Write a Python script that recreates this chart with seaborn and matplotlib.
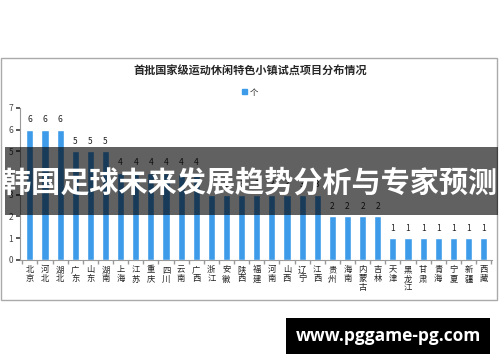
import matplotlib
matplotlib.use("Agg")
import matplotlib.pyplot as plt
from matplotlib.patches import Rectangle, Patch
import seaborn as sns
import pandas as pd

# 首批国家级运动休闲特色小镇试点项目分布情况
provinces = ["北京", "河北", "湖北", "广东", "山东", "湖南", "上海", "江苏", "重庆", "四川",
             "云南", "广西", "浙江", "安徽", "陕西", "福建", "河南", "山西", "辽宁", "江西",
             "贵州", "海南", "内蒙古", "吉林", "天津", "黑龙江", "甘肃", "青海", "宁夏", "新疆", "西藏"]
counts = [6, 6, 6, 5, 5, 5, 4, 4, 4, 4,
          4, 4, 3, 3, 3, 3, 3, 3, 3, 3,
          2, 2, 2, 2, 1, 1, 1, 1, 1, 1, 1]
yticks = [0, 1, 2, 3, 4, 5, 6, 7]

title = "首批国家级运动休闲特色小镇试点项目分布情况"
series_name = "个"
banner = "韩国足球未来发展趋势分析与专家预测"
site = "www.pggame-pg.com"

sns.set_theme(style="white")
plt.rcParams["font.family"] = ["Noto Sans CJK SC", "DejaVu Sans"]

df = pd.DataFrame({"province": provinces, "count": counts})
bar_color = "#3d9be9"

fig = plt.figure(figsize=(5, 3.62), dpi=100)
ax = fig.add_axes([0.04, 0.282, 0.944, 0.42])

sns.barplot(data=df, x="province", y="count", color=bar_color, width=0.47,
            saturation=1, ax=ax)
for c in ax.containers:
    ax.bar_label(c, padding=4, fontsize=6, color="#222222")

ax.set_ylim(0, 7)
ax.set_yticks(yticks)
ax.set_xlim(-0.65, len(provinces) - 0.45)
ax.set_xlabel("")
ax.set_ylabel("")
ax.set_xticks(range(len(provinces)))
ax.set_xticklabels(["\n".join(p) for p in provinces], fontsize=6, color="#222222",
                   linespacing=1.0, va="top")
ax.tick_params(axis="x", length=0, pad=4)
ax.tick_params(axis="y", labelsize=6, colors="#444444", length=3, left=True, pad=2)
# category separator ticks, Excel style
ax.set_xticks([i + 0.5 for i in range(-1, len(provinces))], minor=True)
ax.tick_params(axis="x", which="minor", length=3, color="#999999", bottom=True)
for s in ["top", "right"]:
    ax.spines[s].set_visible(False)
for s in ["left", "bottom"]:
    ax.spines[s].set_color("#999999")
    ax.spines[s].set_linewidth(0.8)

# chart frame, title and legend
fig.add_artist(Rectangle((0.002, 1 - 300 / 362), 0.992, 242 / 362, transform=fig.transFigure,
                         fill=False, edgecolor="#aaaaaa", linewidth=1))
fig.text(0.5, 1 - 71 / 362, title, ha="center", va="center", fontsize=8, fontweight="bold")
fig.legend(handles=[Patch(color=bar_color, label=series_name)], loc="center",
           bbox_to_anchor=(0.5, 1 - 92 / 362), frameon=False, fontsize=6,
           handlelength=0.6, handleheight=0.6, handletextpad=0.4)

# overlay banner
fig.add_artist(Rectangle((0.01, 1 - 215 / 362), 0.985, 68 / 362, transform=fig.transFigure,
                         facecolor="black", alpha=0.62, edgecolor="none", zorder=5))
fig.text(0.5, 1 - 183 / 362, banner, ha="center", va="center", fontsize=21,
         fontweight="bold", color="white", zorder=6)

# site tag
fig.add_artist(Rectangle((286 / 500, 1 - 354 / 362), 204 / 500, 36 / 362,
                         transform=fig.transFigure, facecolor="black", edgecolor="none", zorder=5))
fig.text(388 / 500, 1 - 336 / 362, site, ha="center", va="center", fontsize=12.5,
         fontweight="bold", color="white", family=["Open Sans", "DejaVu Sans"], zorder=6)

fig.savefig("out.png", dpi=100, facecolor="white")
